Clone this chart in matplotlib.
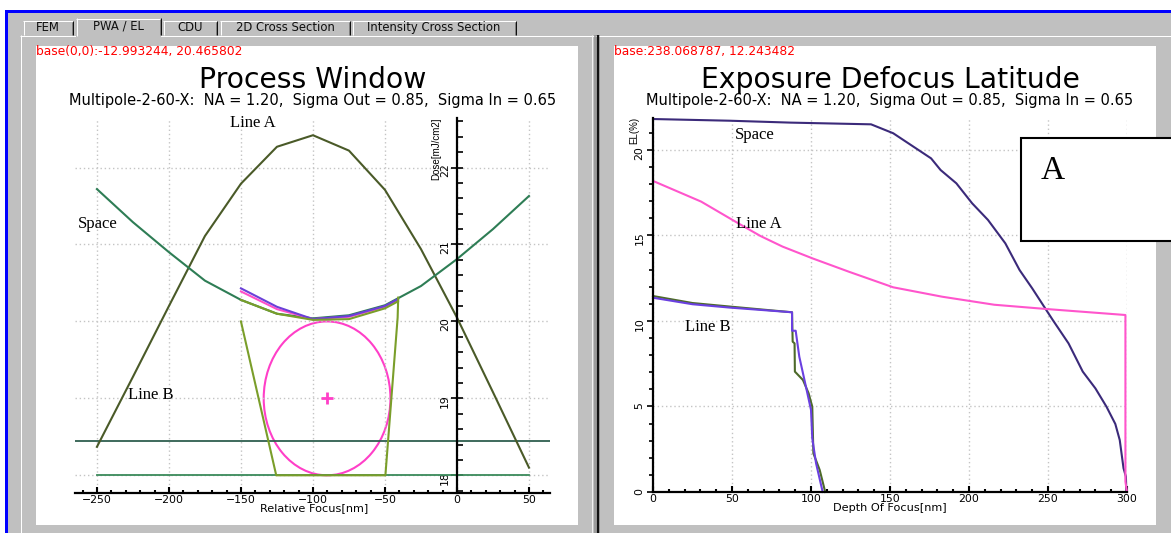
import matplotlib

matplotlib.use("Agg")
import matplotlib.pyplot as plt
from matplotlib.lines import Line2D
from matplotlib.patches import Ellipse, Rectangle
from matplotlib.ticker import MultipleLocator

# --- Process Window data (relative focus [nm] vs dose [mJ/cm2]) ---
pw_focus = [-250, -225, -200, -175, -150, -125, -100, -75, -50, -25, 0, 25, 50]
pw_line_a_dose = [18.37, 19.28, 20.2, 21.11, 21.79, 22.27, 22.42, 22.22, 21.71, 20.94, 20.05, 19.08, 18.10]
pw_space_dose = [21.72, 21.29, 20.90, 20.53, 20.28, 20.10, 20.04, 20.08, 20.21, 20.46, 20.81, 21.2, 21.63]

pw_top_focus = [-150, -125, -100, -75, -50, -41]
pw_top_purple = [20.43, 20.19, 20.03, 20.07, 20.20, 20.29]
pw_top_pink = [20.39, 20.16, 20.03, 20.06, 20.19, 20.28]
pw_top_green = [20.28, 20.10, 20.02, 20.03, 20.17, 20.26]

pw_window_focus = [-150, -125.5, -49.7, -41.2, -40.8]
pw_window_dose = [20.0, 18.0, 18.0, 20.05, 20.31]

ellipse_center = (-90.2, 19.0)
ellipse_width = 88.0
ellipse_height = 2.0

dose_upper = 18.45
dose_lower = 18.0
dose_lower_span = (-250, 50)

# --- Exposure Defocus Latitude data (DOF [nm] vs EL [%]) ---
el_space_dof = [0, 49, 87, 138, 152, 176, 182, 192, 202, 212, 223, 232, 240, 253, 263, 272, 280, 287,
                292.6, 295.4, 297.8, 299.3, 299.6]
el_space_pct = [21.81, 21.71, 21.6, 21.5, 20.98, 19.51, 18.83, 18.05, 16.88, 15.91, 14.54, 12.98, 11.91,
                10.06, 8.69, 7.04, 6.06, 4.99, 3.98, 3.04, 1.39, 0.9, 0.0]

el_line_a_dof = [0, 30.5, 54, 68, 82, 101, 124, 152, 183, 216, 249, 299, 299, 300]
el_line_a_pct = [18.19, 16.98, 15.71, 14.97, 14.35, 13.66, 12.88, 11.97, 11.42, 10.95, 10.70, 10.35, 0.6, 0.0]

el_line_b_green_dof = [0, 25, 49, 88, 88.4, 89.6, 89.8, 94.9, 98.5, 100.8, 101.5, 105.5, 109]
el_line_b_green_pct = [11.46, 11.05, 10.84, 10.51, 8.79, 8.69, 7.04, 6.55, 5.77, 4.99, 2.26, 1.29, 0.0]
el_line_b_blue_dof = [0, 25, 49, 88, 88, 90.3, 92.6, 96.1, 100, 100.8, 103.2, 107.4]
el_line_b_blue_pct = [11.36, 10.98, 10.78, 10.51, 9.43, 9.43, 7.91, 6.45, 4.80, 3.14, 1.68, 0.0]

tabs = ["FEM", "PWA / EL", "CDU", "2D Cross Section", "Intensity Cross Section"]
subtitle = "Multipole-2-60-X:  NA = 1.20,  Sigma Out = 0.85,  Sigma In = 0.65"

W, H = 1171, 533
GRAY = "#c0c0c0"
GRID = dict(color="#c4c4c4", linestyle=(0, (1, 2)), linewidth=1.0)

fig = plt.figure(figsize=(W / 100, H / 100), dpi=100)
fig.patch.set_facecolor("white")


def fx(px):
    return px / W


def fy(py):
    return 1 - py / H


def box(x0, y0, x1, y1, color, z=-5, edge="none", lw=0):
    fig.add_artist(Rectangle((fx(x0), fy(y1)), (x1 - x0) / W, (y1 - y0) / H,
                             transform=fig.transFigure, facecolor=color,
                             edgecolor=edge, linewidth=lw, zorder=z, clip_on=False))


def seg(x0, y0, x1, y1, color, lw=1, z=-4):
    fig.add_artist(Line2D([fx(x0), fx(x1)], [fy(y0), fy(y1)], transform=fig.transFigure,
                          color=color, lw=lw * 0.72, zorder=z, solid_capstyle="butt"))


# window frame
box(5, 9.5, W, H, "#0000ff", z=-10)
box(7.5, 12.5, W, H, GRAY, z=-9)
seg(20.5, 35, 20.5, H, "white")
seg(20, 35.5, W, 35.5, "white")

# tabs
tab_edges = [(23, 73), (76, 161), (163, 217), (220, 350), (352, 516)]
for i, (label, (x0, x1)) in enumerate(zip(tabs, tab_edges)):
    active = i == 1
    top = 18 if active else 20.5
    box(x0, top, x1, 36.5 if active else 35, GRAY, z=-3)
    seg(x0 + 0.5, top, x0 + 0.5, 36 if active else 35, "white", z=-2)
    seg(x0, top + 0.5, x1, top + 0.5, "white", z=-2)
    seg(x1 - 1.5, top + 1, x1 - 1.5, 35, "#808080", z=-2)
    seg(x1 - 0.5, top, x1 - 0.5, 35, "#101010", z=-2)
    fig.text(fx((x0 + x1) / 2), fy(26 if active else 27.5), label, fontsize=8.4,
             ha="center", va="center", color="#101010")

# white panels and splitter
box(36, 46, 578, 525, "white", z=-3)
box(614, 46, 1156, 525, "white", z=-3)
seg(592.5, 35, 592.5, H, "#f0f0f0")
seg(594.5, 35, 594.5, H, "#909090", lw=1.5)
seg(597.5, 35, 597.5, H, "#101010", lw=2.5)

fig.text(fx(36), fy(52), "base(0,0):-12.993244, 20.465802", color="red", fontsize=8.8, va="center")
fig.text(fx(614), fy(52), "base:238.068787, 12.243482", color="red", fontsize=8.8, va="center")

fig.text(fx(313), fy(80), "Process Window", fontsize=20.3, ha="center", va="center")
fig.text(fx(313), fy(100.5), subtitle, fontsize=10.5, ha="center", va="center")
fig.text(fx(890), fy(80), "Exposure Defocus Latitude", fontsize=20.3, ha="center", va="center")
fig.text(fx(890), fy(100.5), subtitle, fontsize=10.5, ha="center", va="center")

serif = dict(family="Liberation Serif", fontsize=12, ha="center", va="center")

# ---------------- Process Window ----------------
ax1 = fig.add_axes([fx(74.6), fy(492.7), (550.3 - 74.6) / W, (492.7 - 118.3) / H])
ax1.set_facecolor("none")
ax1.set_xlim(-265.5, 64.8)
ax1.set_ylim(17.774, 22.64)
for s in ["top", "right"]:
    ax1.spines[s].set_visible(False)
ax1.spines["left"].set_position(("data", 0))
ax1.spines["left"].set_linewidth(1.6)
ax1.spines["bottom"].set_linewidth(1.6)
ax1.xaxis.set_major_locator(MultipleLocator(50))
ax1.xaxis.set_minor_locator(MultipleLocator(10))
ax1.yaxis.set_major_locator(MultipleLocator(1))
ax1.yaxis.set_minor_locator(MultipleLocator(0.2))
ax1.tick_params(axis="x", which="major", direction="in", length=4, width=1.5, labelsize=7.8, pad=1.5)
ax1.tick_params(axis="x", which="minor", direction="in", length=2.5, width=1.5)
ax1.tick_params(axis="y", which="major", direction="inout", length=8, width=1.2, labelsize=7.8,
                labelrotation=90, pad=1)
ax1.tick_params(axis="y", which="minor", direction="in", length=4, width=1.2)
ax1.grid(True, which="major", **GRID)

ax1.axhline(dose_upper, color="#2f5f4f", lw=1.3)
ax1.plot(dose_lower_span, [dose_lower, dose_lower], color="#3a8a5a", lw=1.3)
ax1.plot(pw_focus, pw_line_a_dose, color="#4a5a28", lw=1.5)
ax1.plot(pw_focus, pw_space_dose, color="#2e7d55", lw=1.5)
ax1.plot(pw_top_focus, pw_top_pink, color="#ff4fc8", lw=1.5)
ax1.plot(pw_top_focus, pw_top_purple, color="#6a40d8", lw=1.5)
ax1.plot(pw_top_focus, pw_top_green, color="#7a9e2a", lw=1.5)
ax1.plot(pw_window_focus, pw_window_dose, color="#7a9e2a", lw=1.5)
ax1.add_patch(Ellipse(ellipse_center, ellipse_width, ellipse_height, fill=False,
                      edgecolor="#ff3fc8", lw=1.5))
ax1.plot(*ellipse_center, marker="+", color="#ff3fc8", markersize=8, mew=2)

ax1.text(-142, 22.58, "Line A", **serif)
ax1.text(-249.6, 21.27, "Space", **serif)
ax1.text(-212.4, 19.04, "Line B", **serif)

fig.text(fx(314), fy(508), "Relative Focus[nm]", fontsize=8.1, ha="center", va="center")
fig.text(fx(436), fy(117), "Dose[mJ/cm2]", family="Liberation Sans", fontsize=7,
         rotation=90, ha="center", va="top")

# ---------------- Exposure Defocus Latitude ----------------
ax2 = fig.add_axes([fx(653), fy(492), (1127 - 653) / W, (492 - 118) / H])
ax2.set_facecolor("none")
ax2.set_xlim(0, 300)
ax2.set_ylim(0, 21.87)
for s in ["top", "right"]:
    ax2.spines[s].set_visible(False)
ax2.spines["left"].set_linewidth(1.6)
ax2.spines["bottom"].set_linewidth(1.6)
ax2.xaxis.set_major_locator(MultipleLocator(50))
ax2.xaxis.set_minor_locator(MultipleLocator(10))
ax2.yaxis.set_major_locator(MultipleLocator(5))
ax2.yaxis.set_minor_locator(MultipleLocator(1))
ax2.tick_params(axis="x", which="major", direction="in", length=4, width=1.5, labelsize=7.8, pad=1.5)
ax2.tick_params(axis="x", which="minor", direction="in", length=2.5, width=1.5)
ax2.tick_params(axis="y", which="major", direction="out", length=4, width=1.2, labelsize=7.8,
                labelrotation=90, pad=2)
ax2.tick_params(axis="y", which="minor", direction="out", length=3, width=1.2)
ax2.grid(True, which="major", **GRID)

ax2.plot(el_space_dof, el_space_pct, color="#3b2a7a", lw=1.5, clip_on=False)
ax2.plot(el_line_a_dof, el_line_a_pct, color="#ff55cc", lw=1.5, clip_on=False)
ax2.plot(el_line_b_green_dof, el_line_b_green_pct, color="#4d6a2a", lw=1.5, clip_on=False)
ax2.plot(el_line_b_blue_dof, el_line_b_blue_pct, color="#6a40e0", lw=1.5, clip_on=False)

ax2.text(64.5, 20.88, "Space", **serif)
ax2.text(66.8, 15.65, "Line A", **serif)
ax2.text(34.7, 9.63, "Line B", **serif)

fig.text(fx(890), fy(508), "Depth Of Focus[nm]", fontsize=8.1, ha="center", va="center")
fig.text(fx(634.5), fy(117), "EL(%)", family="Liberation Sans", fontsize=7,
         rotation=90, ha="center", va="top")

# overlay box "A"
box(1021, 138, 1176, 241, "white", z=10, edge="black", lw=1.5)
fig.text(fx(1053), fy(171), "A", family="Liberation Serif", fontsize=24,
         ha="center", va="center", zorder=11)

fig.savefig("out.png", dpi=100)
